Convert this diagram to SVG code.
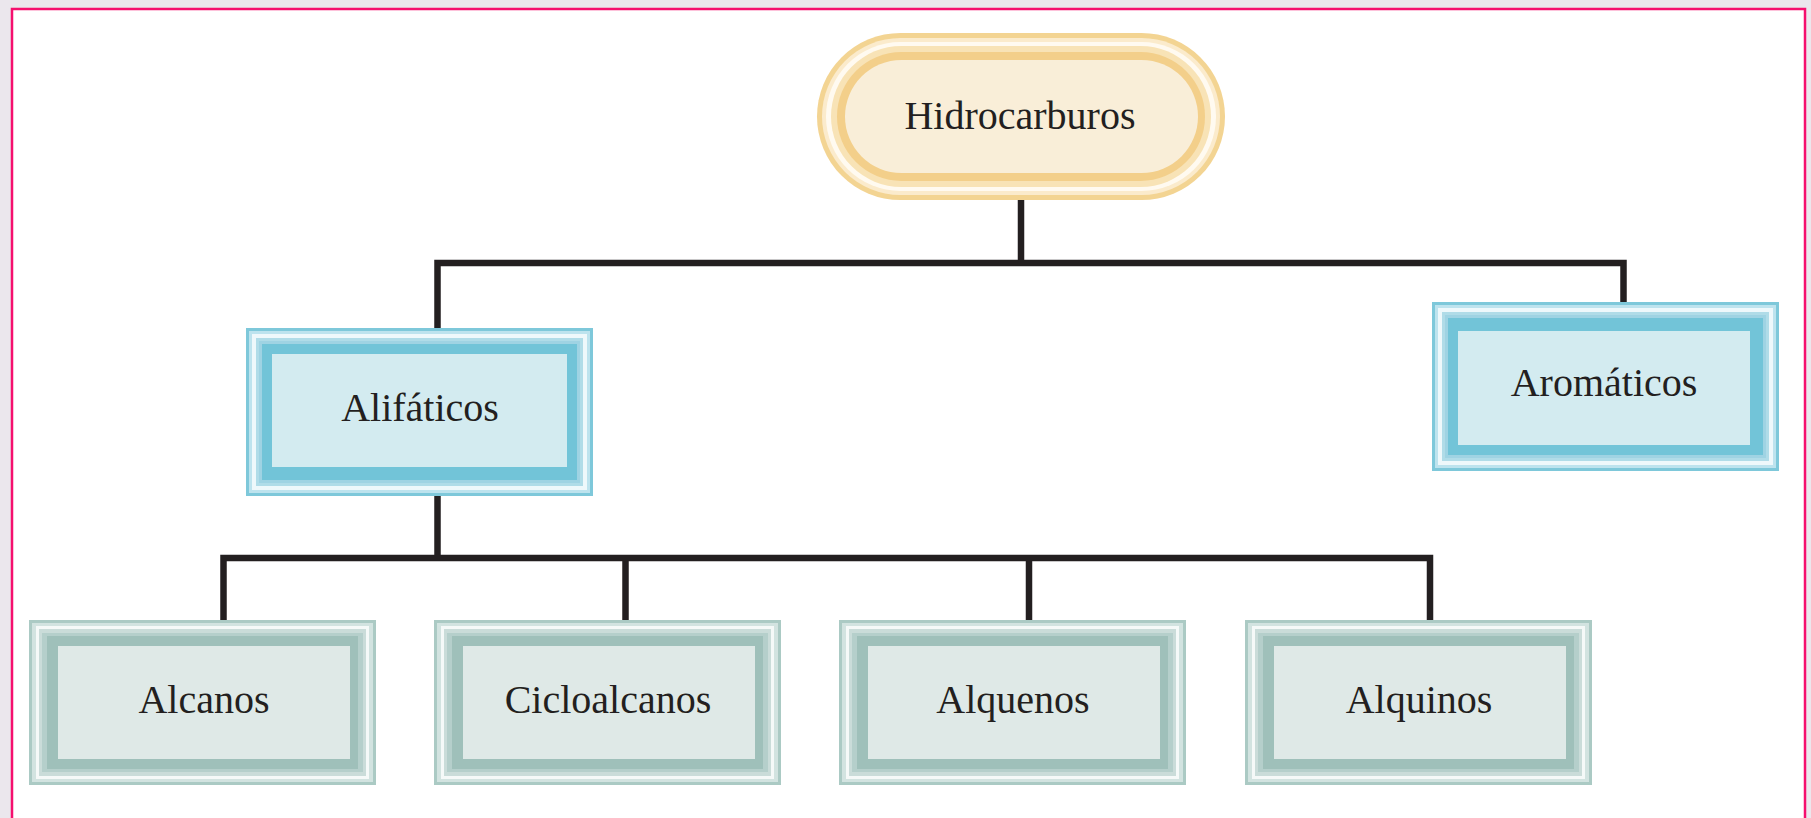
<svg xmlns="http://www.w3.org/2000/svg" width="1811" height="818" viewBox="0 0 1811 818">
<style>
.lbl{font-family:"Liberation Serif","Times New Roman",serif;font-size:40px;fill:#231f20;text-anchor:middle}
.conn{stroke:#231f20;stroke-width:6.5;fill:none;stroke-linecap:square}
.b0{fill:#7ec8da}.b1{fill:#bde3ee}.b2{fill:#eef8fb}.b3{fill:#b0dce8}.b4{fill:#9fd3e3}.b5{fill:#72c4d8}.b6{fill:#d3ebf0}
.g0{fill:#abcac4}.g1{fill:#d2e3e0}.g2{fill:#f5f9f8}.g3{fill:#cadcd9}.g4{fill:#b5cfcb}.g5{fill:#9fc0ba}.g6{fill:#dfe9e7}
</style>
<rect x="0" y="0" width="1811" height="818" fill="#ebe7ed"/>
<rect x="12" y="9" width="1793" height="840" fill="#ffffff" stroke="#f50f6e" stroke-width="2.5"/>

<g id="connectors">
<path class="conn" d="M1021 202 V263 M437.5 263 H1623.5 M437.5 263 V328 M1623.5 263 V302"/>
<path class="conn" d="M437.5 496 V558 M223.5 558 H1430 M223.5 558 V620 M625.5 558 V620 M1029 558 V620 M1430 558 V620"/>
</g>

<g id="hidrocarburos">
<rect x="817" y="33" width="408" height="167" rx="83.5" fill="#f3d492"/>
<rect x="822" y="38" width="398" height="157" rx="78.5" fill="#fbebcc"/>
<rect x="826" y="42" width="390" height="149" rx="74.5" fill="#fffaf0"/>
<rect x="831" y="46" width="380" height="141" rx="70.5" fill="#f8e3b6"/>
<rect x="837" y="52" width="368" height="129" rx="64.5" fill="#f3cf8a"/>
<rect x="845" y="60" width="353" height="113" rx="56.5" fill="#f9eed8"/>
<text class="lbl" x="1020" y="129">Hidrocarburos</text>
</g>

<g id="alifaticos">
<rect class="b0" x="246" y="328" width="347" height="168"/>
<rect class="b1" x="249" y="331" width="341" height="162"/>
<rect class="b2" x="252" y="334" width="335" height="156"/>
<rect class="b3" x="256" y="338" width="327" height="148"/>
<rect class="b4" x="259" y="341" width="321" height="142"/>
<rect class="b5" x="262" y="344" width="315" height="136"/>
<rect class="b6" x="272" y="354" width="295" height="113"/>
<text class="lbl" x="420" y="421">Alifáticos</text>
</g>

<g id="aromaticos">
<rect class="b0" x="1432" y="302" width="347" height="169"/>
<rect class="b1" x="1435" y="305" width="341" height="163"/>
<rect class="b2" x="1438" y="308" width="335" height="157"/>
<rect class="b3" x="1442" y="312" width="327" height="149"/>
<rect class="b4" x="1445" y="315" width="321" height="143"/>
<rect class="b5" x="1448" y="318" width="315" height="137"/>
<rect class="b6" x="1458" y="331" width="292" height="114"/>
<text class="lbl" x="1604" y="396">Aromáticos</text>
</g>

<g id="alcanos">
<rect class="g0" x="29" y="620" width="347" height="165"/>
<rect class="g1" x="32" y="623" width="341" height="159"/>
<rect class="g2" x="36" y="626" width="333" height="153"/>
<rect class="g3" x="39" y="629" width="327" height="147"/>
<rect class="g4" x="42" y="633" width="321" height="139"/>
<rect class="g5" x="47" y="636" width="311" height="133"/>
<rect class="g6" x="58" y="646" width="292" height="113"/>
<text class="lbl" x="204" y="713">Alcanos</text>
</g>

<g id="cicloalcanos">
<rect class="g0" x="434" y="620" width="347" height="165"/>
<rect class="g1" x="437" y="623" width="341" height="159"/>
<rect class="g2" x="441" y="626" width="333" height="153"/>
<rect class="g3" x="444" y="629" width="327" height="147"/>
<rect class="g4" x="447" y="633" width="321" height="139"/>
<rect class="g5" x="452" y="636" width="311" height="133"/>
<rect class="g6" x="463" y="646" width="292" height="113"/>
<text class="lbl" x="608" y="713">Cicloalcanos</text>
</g>

<g id="alquenos">
<rect class="g0" x="839" y="620" width="347" height="165"/>
<rect class="g1" x="842" y="623" width="341" height="159"/>
<rect class="g2" x="846" y="626" width="333" height="153"/>
<rect class="g3" x="849" y="629" width="327" height="147"/>
<rect class="g4" x="852" y="633" width="321" height="139"/>
<rect class="g5" x="857" y="636" width="311" height="133"/>
<rect class="g6" x="868" y="646" width="292" height="113"/>
<text class="lbl" x="1013" y="713">Alquenos</text>
</g>

<g id="alquinos">
<rect class="g0" x="1245" y="620" width="347" height="165"/>
<rect class="g1" x="1248" y="623" width="341" height="159"/>
<rect class="g2" x="1252" y="626" width="333" height="153"/>
<rect class="g3" x="1255" y="629" width="327" height="147"/>
<rect class="g4" x="1258" y="633" width="321" height="139"/>
<rect class="g5" x="1263" y="636" width="311" height="133"/>
<rect class="g6" x="1274" y="646" width="292" height="113"/>
<text class="lbl" x="1419" y="713">Alquinos</text>
</g>
</svg>
